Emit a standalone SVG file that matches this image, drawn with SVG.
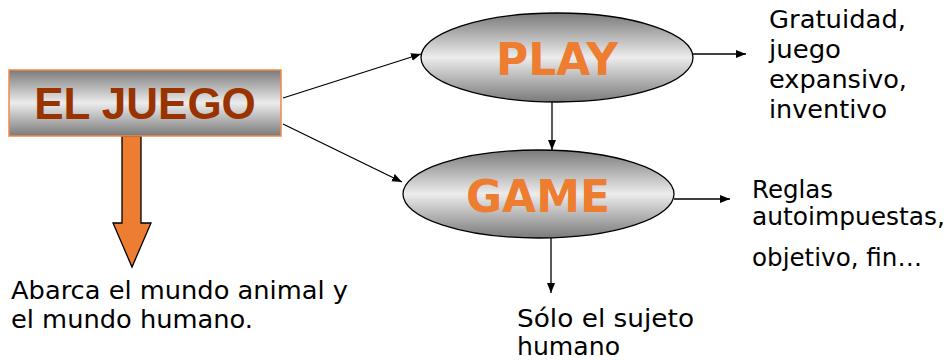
<svg xmlns="http://www.w3.org/2000/svg" width="949" height="360" viewBox="0 0 949 360">
<defs>
<linearGradient id="gr" x1="0" y1="0" x2="0" y2="1">
<stop offset="0" stop-color="#7a7a7a"/>
<stop offset="0.5" stop-color="#ececec"/>
<stop offset="1" stop-color="#7a7a7a"/>
</linearGradient>
<marker id="ah" viewBox="0 0 10 10" refX="10" refY="5" markerWidth="10" markerHeight="10" markerUnits="userSpaceOnUse" orient="auto">
<path d="M0,1 L10,5 L0,9 Z" fill="#000"/>
</marker>
<style>
.lbl{font-family:"DejaVu Sans",Verdana,sans-serif;font-size:24px;fill:#000}
.big{font-family:"DejaVu Sans",Verdana,sans-serif;font-size:44px;font-weight:bold;fill:#ED7D31}
.con{stroke:#000;stroke-width:1.3;fill:none;marker-end:url(#ah)}
</style>
</defs>
<g id="connectors">
<line class="con" x1="283" y1="98" x2="421" y2="54"/>
<line class="con" x1="283" y1="124" x2="402" y2="182"/>
<line class="con" x1="552" y1="102" x2="552" y2="150"/>
<line class="con" x1="692" y1="54" x2="746" y2="54"/>
<line class="con" x1="674" y1="199" x2="730" y2="199"/>
<line class="con" x1="551" y1="238" x2="551" y2="293"/>
<path d="M122,136 L141,136 L141,223 L151,223 L132,267 L113,223 L122,223 Z" fill="#ED7D31" stroke="#000" stroke-width="1.3"/>
</g>
<g id="el-juego">
<rect x="9" y="70" width="272" height="66" fill="url(#gr)" stroke="#F08A4B" stroke-width="1.5"/>
<text x="145" y="119" text-anchor="middle" font-family="'Liberation Sans',Arial,sans-serif" font-size="44" font-weight="bold" fill="#993300">EL JUEGO</text>
</g>
<g id="play">
<ellipse cx="557" cy="57.5" rx="136" ry="44.5" fill="url(#gr)" stroke="#000" stroke-width="1.3"/>
<text class="big" x="557" y="75" text-anchor="middle">PLAY</text>
</g>
<g id="game">
<ellipse cx="538.5" cy="194" rx="135.5" ry="44" fill="url(#gr)" stroke="#000" stroke-width="1.3"/>
<text class="big" x="538" y="212" text-anchor="middle">GAME</text>
</g>
<g id="play-text">
<text class="lbl" x="769" y="28" textLength="137" lengthAdjust="spacingAndGlyphs">Gratuidad,</text>
<text class="lbl" x="769" y="58" textLength="72" lengthAdjust="spacingAndGlyphs">juego</text>
<text class="lbl" x="769" y="88" textLength="138" lengthAdjust="spacingAndGlyphs">expansivo,</text>
<text class="lbl" x="769" y="118" textLength="118" lengthAdjust="spacingAndGlyphs">inventivo</text>
</g>
<g id="game-text">
<text class="lbl" x="752" y="198" textLength="81" lengthAdjust="spacingAndGlyphs">Reglas</text>
<text class="lbl" x="752" y="225" textLength="193" lengthAdjust="spacingAndGlyphs">autoimpuestas,</text>
<text class="lbl" x="752" y="266" textLength="170" lengthAdjust="spacingAndGlyphs">objetivo, fin…</text>
</g>
<g id="juego-text">
<text class="lbl" x="11" y="299" textLength="337" lengthAdjust="spacingAndGlyphs">Abarca el mundo animal y</text>
<text class="lbl" x="11" y="328" textLength="242" lengthAdjust="spacingAndGlyphs">el mundo humano.</text>
</g>
<g id="game-bottom-text">
<text class="lbl" x="517" y="327" textLength="177" lengthAdjust="spacingAndGlyphs">Sólo el sujeto</text>
<text class="lbl" x="517" y="355" textLength="103" lengthAdjust="spacingAndGlyphs">humano</text>
</g>
</svg>
